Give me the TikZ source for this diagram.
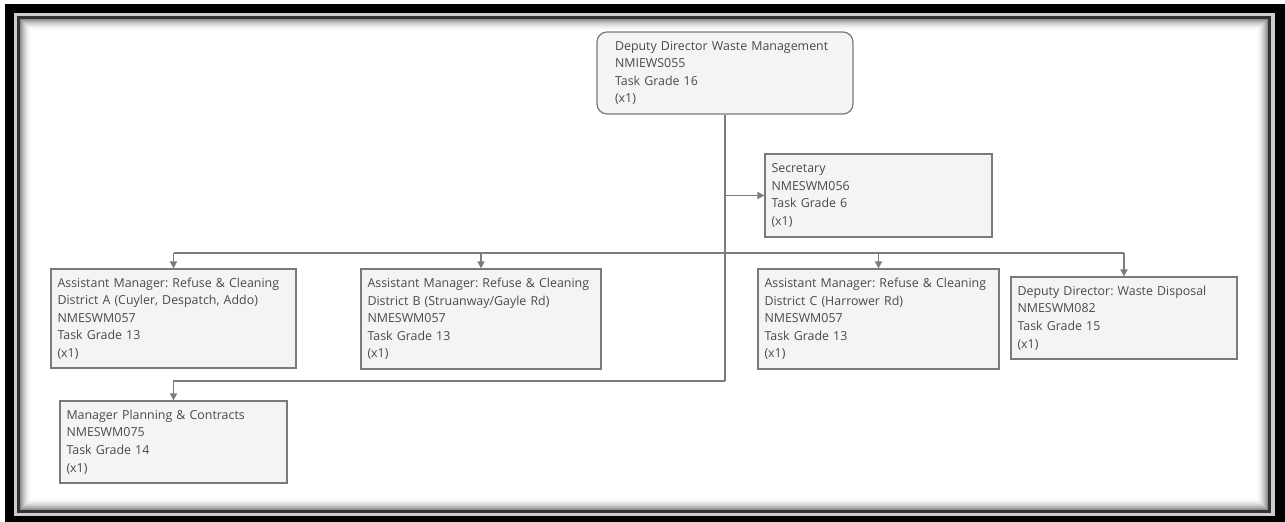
\documentclass[tikz,border=0pt]{standalone}
\usepackage{fontspec}
\setmainfont{Open Sans}
\usetikzlibrary{arrows.meta}
\definecolor{txt}{HTML}{4A4A4A}
\definecolor{edge}{HTML}{7A7A7A}
\definecolor{link}{HTML}{7C7C7C}
\definecolor{boxfill}{HTML}{F4F4F4}
\tikzset{
  x=1pt, y=-1pt,
  post/.style={draw=edge, line width=1.2pt, fill=boxfill, text=txt,
    align=left, inner xsep=6.5pt, inner ysep=0pt,
    font=\frenchspacing\fontsize{12.4}{17.6}\selectfont},
  headpost/.style={post, rounded corners=10pt, inner xsep=18pt},
  link/.style={draw=link, line width=1.6pt,
    -{Triangle[length=7pt,width=7pt]}},
  linkplain/.style={draw=link, line width=1.6pt}
}
\begin{document}
\begin{tikzpicture}
\useasboundingbox (0,0) rectangle (1285,522);
% framed border with inner shadow
\fill[black] (5,4) rectangle (1285,522);
\fill[gray!40] (14,13) rectangle (1275,516);
\fill[black!80] (17,16) rectangle (1271,513);
\fill[white] (20,19) rectangle (1268,510);
\foreach \i in {0,...,11}{
  \pgfmathsetmacro{\op}{0.45*(1-\i/12)^2}
  \draw[black, opacity=\op, line width=1pt]
    (20.5+\i,19.5+\i) rectangle (1267.5-\i,509.5-\i);
}

% posts
\node[headpost, minimum width=256pt, minimum height=82pt, text width=220pt]
  (dd) at (725,73) {Deputy Director Waste Management\\NMIEWS055\\Task Grade 16\\(x1)};
\node[post, minimum width=227pt, minimum height=83pt, text width=214pt]
  (sec) at (878.5,195.5) {Secretary\\NMESWM056\\Task Grade 6\\(x1)};
\node[post, minimum width=245pt, minimum height=99pt, text width=232pt]
  (amA) at (173.5,318.5) {Assistant Manager: Refuse \& Cleaning\\District A (Cuyler, Despatch, Addo)\\NMESWM057\\Task Grade 13\\(x1)};
\node[post, minimum width=240pt, minimum height=100pt, text width=227pt]
  (amB) at (481,319) {Assistant Manager: Refuse \& Cleaning\\District B (Struanway/Gayle Rd)\\NMESWM057\\Task Grade 13\\(x1)};
\node[post, minimum width=241pt, minimum height=100pt, text width=228pt]
  (amC) at (878.5,319) {Assistant Manager: Refuse \& Cleaning\\District C (Harrower Rd)\\NMESWM057\\Task Grade 13\\(x1)};
\node[post, minimum width=226pt, minimum height=82pt, text width=213pt]
  (ddw) at (1124,318) {Deputy Director: Waste Disposal\\NMESWM082\\Task Grade 15\\(x1)};
\node[post, minimum width=227pt, minimum height=82pt, text width=214pt]
  (mpc) at (173.5,442) {Manager Planning \& Contracts\\NMESWM075\\Task Grade 14\\(x1)};

% reporting lines
\coordinate (trunk) at (725,381);
\coordinate (bus) at (725,253);
\draw[linkplain] (dd.south) -- (trunk);
\draw[link] (dd.south |- sec.west) -- (sec.west);
\draw[linkplain] (amA.north |- bus) -- (ddw.north |- bus);
\draw[link] (amA.north |- bus) -- (amA.north);
\draw[link] (amB.north |- bus) -- (amB.north);
\draw[link] (amC.north |- bus) -- (amC.north);
\draw[link] (ddw.north |- bus) -- (ddw.north);
\draw[link] (trunk) -- (mpc.north |- trunk) -- (mpc.north);
\end{tikzpicture}
\end{document}
